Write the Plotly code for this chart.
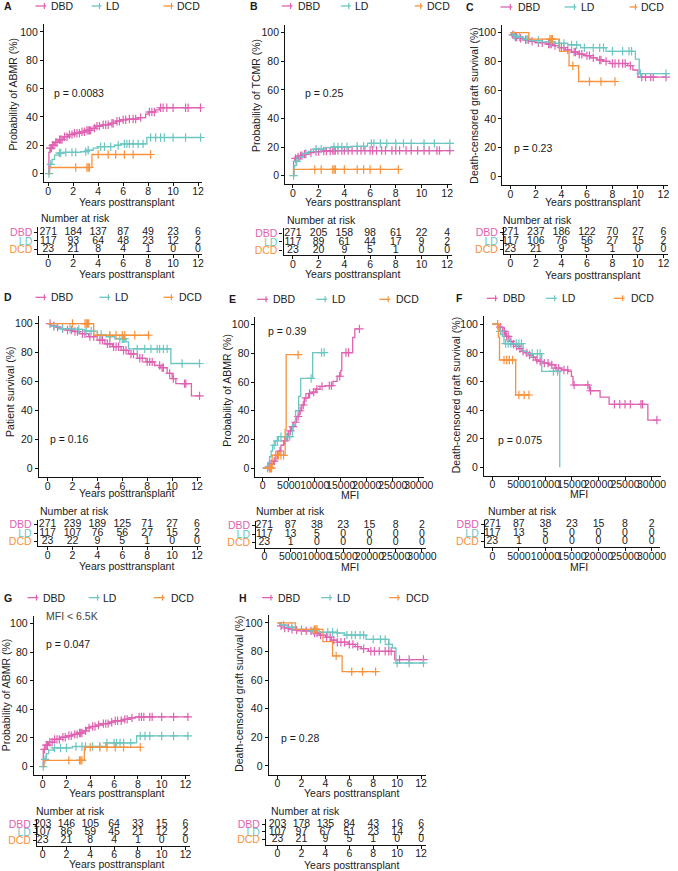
import numpy as np
import plotly.graph_objects as go

W, H = 678, 871
GROUPS = ['DBD', 'LD', 'DCD']
COL = {'DBD': '#DF62B2', 'LD': '#6CC6C2', 'DCD': '#F8923C'}

YEAR_TICKS = [0, 2, 4, 6, 8, 10, 12]
MFI_TICKS = [0, 5000, 10000, 15000, 20000, 25000, 30000]

# ---------------- Panel A : Probability of ABMR ----------------
A_DBD_t = [0, 0.05, 0.15, 0.3, 0.5, 0.8, 1.2, 1.6, 2.0, 2.6, 3.0, 3.5, 3.8, 4.3, 5.0, 5.4, 5.8, 6.3, 7.2, 7.8, 8.0, 8.6, 8.9, 12.3]
A_DBD_v = [0, 15, 18, 20, 22, 24, 26, 27.5, 28.5, 29.5, 30.5, 32, 33.5, 34.5, 35.5, 37, 38, 38.5, 39.5, 42, 43.5, 45, 46.5, 46.5]
A_DBD_c = [0.15, 0.25, 0.35, 0.45, 0.6, 0.7, 0.9, 1.0, 1.1, 1.3, 1.5, 1.7, 1.9, 2.1, 2.3, 2.5, 2.7, 2.9, 3.1, 3.2, 3.3, 3.4, 3.7, 3.9, 4.1, 4.4, 4.6, 4.8, 5.1, 5.2, 5.5, 5.7, 6.0, 6.2, 6.5, 6.8, 7.0, 7.4, 8.1, 8.3, 8.5, 9.0, 9.2, 9.5, 10.0, 11.0, 11.2, 12.2]
A_LD_t = [0, 0.1, 0.3, 0.5, 0.8, 1.2, 2.6, 3.1, 3.6, 4.0, 5.3, 5.8, 7.9, 12.3]
A_LD_v = [0, 6.5, 10, 13, 14.5, 15, 15.5, 16.5, 18, 19, 20, 21, 25.5, 25.5]
A_LD_c = [0.05, 0.2, 0.9, 1.0, 1.4, 1.9, 2.2, 3.0, 3.2, 4.2, 4.5, 5.0, 5.6, 6.1, 6.3, 6.5, 6.8, 7.2, 7.6, 8.2, 8.6, 9.0, 9.3, 10.0, 11.0, 12.2]
A_DCD_t = [0, 0.1, 3.5, 8.2]
A_DCD_v = [0, 4.3, 13.5, 13.5]
A_DCD_c = [2.2, 3.1, 3.2, 3.3, 4.0, 4.8, 5.4, 6.1, 6.8, 8.2]
A_RISK_DBD = [271, 184, 137, 87, 49, 23, 6]
A_RISK_LD = [117, 93, 64, 48, 23, 12, 2]
A_RISK_DCD = [23, 21, 8, 4, 1, 0, 0]

# ---------------- Panel B : Probability of TCMR ----------------
B_DBD_t = [0, 0.05, 0.15, 0.3, 0.5, 0.8, 1.2, 1.6, 2.2, 3.0, 12.3]
B_DBD_v = [0, 10, 12, 13, 14, 15, 16, 16.8, 17.2, 17.5, 17.5]
B_DBD_c = [0.2, 0.4, 0.6, 0.7, 0.9, 1.0, 1.4, 1.8, 2.0, 2.4, 2.6, 2.9, 3.1, 3.2, 3.3, 3.5, 3.8, 4.0, 4.3, 4.6, 5.0, 5.3, 5.6, 6.0, 6.2, 6.5, 6.9, 7.2, 7.7, 8.0, 8.3, 8.8, 9.2, 9.7, 10.2, 10.6, 11.2, 11.4, 12.2]
B_LD_t = [0, 0.1, 0.25, 0.5, 0.8, 1.2, 1.6, 2.5, 3.0, 4.5, 5.8, 12.3]
B_LD_v = [0, 7, 10, 13, 15.5, 17, 18.5, 19.5, 20, 20.5, 22.5, 22.5]
B_LD_c = [0.05, 0.3, 1.0, 1.8, 2.2, 3.2, 3.5, 3.8, 4.2, 5.0, 5.5, 6.1, 6.3, 6.8, 7.3, 8.0, 8.6, 9.2, 10.2, 11.0, 12.2]
B_DCD_t = [0, 0.05, 8.2]
B_DCD_v = [0, 4.3, 4.3]
B_DCD_c = [1.7, 2.2, 3.1, 3.2, 3.3, 4.0, 5.0, 5.5, 6.0, 6.8, 8.2]
B_RISK_DBD = [271, 205, 158, 98, 61, 22, 4]
B_RISK_LD = [117, 89, 61, 44, 17, 9, 2]
B_RISK_DCD = [23, 20, 9, 5, 1, 0, 0]

# ---------------- Panel C : Death-censored graft survival ----------------
C_DBD_t = [0, 0.1, 0.3, 0.6, 1.0, 1.5, 2.0, 2.8, 3.3, 3.8, 4.3, 4.8, 5.3, 5.8, 6.3, 6.8, 7.3, 7.8, 9.2, 9.6, 10.0, 12.3]
C_DBD_v = [100, 98.5, 97, 96, 95, 94, 93, 92, 91, 89.5, 88, 86.5, 85, 84, 82.5, 81, 80, 78.5, 77, 74, 69, 69]
C_DBD_c = [0.2, 0.4, 0.5, 0.8, 1.2, 1.4, 1.7, 2.2, 2.5, 3.0, 3.1, 3.2, 3.5, 4.0, 4.2, 4.5, 5.0, 5.1, 5.4, 5.6, 6.0, 6.2, 6.5, 7.0, 7.1, 7.5, 8.0, 8.2, 8.5, 8.8, 9.0, 9.4, 10.3, 10.6, 11.0, 11.2, 12.2]
C_LD_t = [0, 0.2, 0.5, 1.0, 1.5, 2.5, 3.5, 4.5, 5.5, 7.5, 9.8, 10.1, 12.3]
C_LD_v = [100, 98, 97, 95.5, 94.5, 93.5, 92.5, 91.5, 89.5, 87, 81.5, 71.5, 71.5]
C_LD_c = [0.3, 0.7, 1.3, 2.2, 3.2, 3.8, 4.2, 4.8, 5.2, 5.8, 6.5, 7.0, 7.3, 8.0, 8.8, 9.3, 9.5, 10.2, 12.2]
C_DCD_t = [0, 1.45, 3.85, 4.6, 5.35, 8.2]
C_DCD_v = [100, 95.5, 87, 77, 66, 66]
C_DCD_c = [3.1, 3.2, 3.3, 4.9, 6.2, 7.1, 8.2]
C_RISK_DBD = [271, 237, 186, 122, 70, 27, 6]
C_RISK_LD = [117, 106, 76, 56, 27, 15, 2]
C_RISK_DCD = [23, 21, 9, 5, 1, 0, 0]

# ---------------- Panel D : Patient survival ----------------
D_DBD_t = [0, 0.3, 0.7, 1.0, 1.5, 2.0, 2.6, 3.3, 4.0, 4.6, 5.2, 5.9, 6.5, 7.2, 7.9, 8.6, 9.1, 9.6, 10.0, 10.3, 11.55, 12.3]
D_DBD_v = [100, 98.5, 97.5, 96.5, 95.5, 94.5, 93, 91, 88.5, 86, 84, 81.5, 79, 76, 73.5, 71, 69.5, 65.5, 62, 58.5, 50, 50]
D_DBD_c = [0.2, 0.5, 0.8, 1.2, 1.6, 1.9, 2.2, 2.4, 2.8, 3.0, 3.4, 3.7, 4.2, 4.4, 4.8, 5.0, 5.3, 5.5, 5.7, 6.1, 6.3, 6.7, 6.9, 7.4, 7.6, 8.0, 8.2, 8.4, 9.0, 9.2, 9.3, 9.8, 10.1, 11.0, 11.1, 12.2]
D_LD_t = [0, 0.3, 0.9, 2.0, 3.0, 4.0, 4.7, 5.4, 6.3, 6.5, 9.9, 12.2]
D_LD_v = [100, 98, 96.5, 96, 94.7, 92.4, 91, 89.5, 87.3, 82.5, 72.4, 72.4]
D_LD_c = [0.5, 1.2, 1.8, 2.5, 3.1, 3.5, 4.3, 5.0, 5.8, 6.0, 6.1, 6.2, 7.2, 7.8, 8.3, 8.8, 9.0, 9.3, 9.6, 10.8, 12.2]
D_DCD_t = [0, 3.7, 8.1]
D_DCD_v = [100, 91.9, 91.9]
D_DCD_c = [2.0, 3.0, 3.1, 3.2, 3.3, 4.0, 5.0, 5.5, 6.0, 6.2, 7.0, 8.1]
D_RISK_DBD = [271, 239, 189, 125, 71, 27, 6]
D_RISK_LD = [117, 107, 76, 56, 27, 15, 2]
D_RISK_DCD = [23, 22, 9, 5, 1, 0, 0]

# ---------------- Panel E : Probability of ABMR vs MFI ----------------
E_DBD_t = [0, 1000, 1500, 2000, 2500, 3000, 3500, 4000, 4500, 5000, 5500, 6000, 6500, 7000, 7500, 8000, 8800, 9500, 10200, 11000, 12000, 13500, 14300, 15000, 15200, 17300, 17700, 18600]
E_DBD_v = [0, 1, 3, 5, 9, 12, 16, 19, 22, 26, 29, 32, 36, 40, 44, 49, 52, 53, 55, 57, 57.5, 60.5, 64, 68, 80.5, 91, 97, 97]
E_DBD_c = [1200, 1600, 2200, 2800, 3300, 4200, 4800, 5300, 5800, 6300, 6800, 7200, 7800, 8300, 9000, 9800, 10400, 11400, 12800, 13200, 14800, 16000, 16500, 18600]
E_LD_t = [0, 700, 1000, 1300, 1600, 1900, 2400, 3000, 5700, 6300, 6900, 7300, 9600, 11800]
E_LD_v = [0, 0, 4, 8, 12, 16, 19, 22, 30, 40, 50, 62.5, 80.5, 80.5]
E_LD_c = [900, 2200, 2800, 3500, 4500, 5200, 9300, 11300, 11800]
E_DCD_t = [0, 1800, 4300, 4500, 6800]
E_DCD_v = [0, 9, 27, 79, 79]
E_DCD_c = [1300, 1500, 1700, 2500, 3000, 3500, 4000, 6800]
E_RISK_DBD = [271, 87, 38, 23, 15, 8, 2]
E_RISK_LD = [117, 13, 5, 0, 0, 0, 0]
E_RISK_DCD = [23, 1, 0, 0, 0, 0, 0]

# ---------------- Panel F : Death-censored graft survival vs MFI ----------------
F_DBD_t = [0, 700, 1200, 1900, 2500, 3150, 3800, 4400, 5000, 5600, 6200, 6900, 7500, 8100, 8700, 9300, 10600, 11800, 13000, 14300, 14900, 15200, 18300, 20300, 22000, 29300, 31300]
F_DBD_v = [100, 100, 98, 95, 91.5, 88, 86, 84.5, 83, 81, 80, 78.5, 77, 75, 74, 72.8, 71.6, 69.3, 68, 67, 63.5, 57.5, 53.5, 49, 44, 33, 33]
F_DBD_c = [1500, 2000, 2300, 2700, 3000, 3500, 4000, 4600, 5200, 5800, 6500, 7000, 7700, 8400, 9000, 9800, 10500, 11200, 12000, 12500, 13500, 14200, 15400, 18000, 18500, 23000, 24000, 25000, 26000, 28000, 28300, 31000]
F_LD_t = [0, 400, 1000, 1300, 1600, 1900, 2200, 5800, 6600, 9300, 12700]
F_LD_v = [100, 100, 97, 95, 93, 91.5, 86.5, 81, 79.5, 67, 0]
F_LD_c = [1500, 2500, 3000, 3500, 4500, 5000, 5500, 7500, 8500, 9000, 11500, 12300]
F_DCD_t = [0, 1150, 1350, 4400, 6900]
F_DCD_v = [100, 91, 75, 50.5, 50.5]
F_DCD_c = [1000, 2200, 2700, 3200, 3800, 5000, 6000, 6900]
F_RISK_DBD = [271, 87, 38, 23, 15, 8, 2]
F_RISK_LD = [117, 13, 5, 0, 0, 0, 0]
F_RISK_DCD = [23, 1, 0, 0, 0, 0, 0]

# ---------------- Panel G : Probability of ABMR, MFI < 6.5K ----------------
G_DBD_t = [0, 0.05, 0.2, 0.5, 1.0, 1.5, 2.0, 2.5, 3.0, 3.4, 3.7, 4.0, 4.5, 5.0, 5.6, 6.0, 6.8, 7.3, 7.8, 12.3]
G_DBD_v = [0, 12, 15, 17, 19, 20.5, 21.5, 22.5, 23.5, 25, 27, 28, 29, 30, 31, 32, 33, 34, 34.7, 34.7]
G_DBD_c = [0.15, 0.3, 0.4, 0.6, 0.8, 1.0, 1.2, 1.4, 1.7, 1.9, 2.2, 2.4, 2.7, 2.9, 3.1, 3.2, 3.3, 3.6, 3.9, 4.2, 4.4, 4.7, 5.1, 5.3, 5.5, 5.8, 6.1, 6.3, 6.6, 6.9, 7.1, 7.5, 8.1, 8.3, 8.5, 9.0, 9.2, 10.0, 11.0, 12.2]
G_LD_t = [0, 0.1, 0.3, 0.5, 0.9, 2.5, 5.3, 7.9, 12.3]
G_LD_v = [0, 5, 9, 11.5, 13, 14, 16.5, 21.4, 21.4]
G_LD_c = [0.05, 0.2, 1.0, 1.5, 2.0, 2.8, 3.3, 3.6, 4.2, 4.8, 5.4, 6.0, 6.2, 6.5, 6.8, 7.4, 8.2, 8.6, 9.0, 10.0, 11.0, 12.2]
G_DCD_t = [0, 0.1, 3.5, 8.2]
G_DCD_v = [0, 4.3, 13.5, 13.5]
G_DCD_c = [2.2, 3.1, 3.2, 3.3, 4.0, 4.8, 5.4, 6.1, 6.8, 8.2]
G_RISK_DBD = [203, 146, 105, 64, 33, 15, 6]
G_RISK_LD = [107, 86, 59, 45, 21, 12, 2]
G_RISK_DCD = [23, 21, 8, 4, 1, 0, 0]

# ---------------- Panel H : Death-censored graft survival, MFI < 6.5K ----------------
H_DBD_t = [0, 0.2, 0.5, 1.0, 1.5, 2.0, 3.0, 3.5, 4.0, 4.5, 5.0, 5.9, 6.5, 7.0, 7.6, 9.8, 12.3]
H_DBD_v = [100, 98, 96.5, 95.5, 95, 94.5, 93, 91.5, 90, 88, 86.5, 85, 83.5, 82, 80.2, 74.4, 74.4]
H_DBD_c = [0.3, 0.6, 0.9, 1.2, 1.6, 2.0, 2.4, 2.8, 3.1, 3.3, 3.6, 4.1, 4.4, 4.7, 5.0, 5.3, 5.6, 6.0, 6.3, 6.7, 7.2, 7.8, 8.1, 8.5, 9.0, 9.3, 9.5, 10.2, 11.0, 12.2]
H_LD_t = [0, 0.3, 0.8, 1.5, 2.5, 3.5, 5.0, 5.6, 7.4, 9.3, 9.6, 9.9, 12.3]
H_LD_v = [100, 98.5, 97, 95.5, 94.5, 93.5, 93, 91.5, 88.5, 85, 82.5, 72, 72]
H_LD_c = [0.5, 1.2, 2.0, 3.0, 4.2, 4.6, 5.0, 5.8, 6.2, 6.5, 6.9, 7.2, 8.0, 8.6, 9.0, 9.3, 10.0, 11.0, 12.2]
H_DCD_t = [0, 1.5, 3.8, 4.6, 5.4, 8.2]
H_DCD_v = [100, 95.5, 87, 77, 66, 66]
H_DCD_c = [3.1, 3.2, 3.3, 4.9, 6.2, 7.1, 8.2]
H_RISK_DBD = [203, 178, 135, 84, 43, 16, 6]
H_RISK_LD = [107, 97, 67, 51, 23, 14, 2]
H_RISK_DCD = [23, 21, 9, 5, 1, 0, 0]


# ---------------- layout (pixel positions of each panel) ----------------
def px_x(p):
    return p / W


def px_y(p):
    return 1 - p / H


FONT = 'Liberation Sans, Arial, sans-serif'
TXT = '#1a1a1a'

panels = [
    dict(letter='A', ytitle='Probability of ABMR (%)', xtitle='Years posttransplant',
         curves={'DBD': (A_DBD_t, A_DBD_v, A_DBD_c), 'LD': (A_LD_t, A_LD_v, A_LD_c), 'DCD': (A_DCD_t, A_DCD_v, A_DCD_c)},
         risk={'DBD': A_RISK_DBD, 'LD': A_RISK_LD, 'DCD': A_RISK_DCD}, ticks=YEAR_TICKS, p='p = 0.0083',
         m=dict(x0=49, xk=12.667, xr=[-0.35, 12.35], y0=173, yk=1.42),
         r=dict(x0=49, xk=12.667, xr=[-0.79, 12.35], rows=[232, 240.5, 249], axis=254),
         leg=dict(y=5, L=2, items=[(36, 47, 50), (93, 103, 106), (166, 176, 178)]),
         pp=(53, 92), yt=(13, 93), xt_m=(128, 201), xt_r=(128, 274), nar=(40, 218)),
    dict(letter='B', ytitle='Probability of TCMR (%)', xtitle='Years posttransplant',
         curves={'DBD': (B_DBD_t, B_DBD_v, B_DBD_c), 'LD': (B_LD_t, B_LD_v, B_LD_c), 'DCD': (B_DCD_t, B_DCD_v, B_DCD_c)},
         risk={'DBD': B_RISK_DBD, 'LD': B_RISK_LD, 'DCD': B_RISK_DCD}, ticks=YEAR_TICKS, p='p = 0.25',
         m=dict(x0=297.3, xk=13.05, xr=[-0.6, 12.35], y0=175, yk=1.433),
         r=dict(x0=297.3, xk=13.05, xr=[-0.73, 12.35], rows=[233, 241.5, 250], axis=255),
         leg=dict(y=5, L=252, items=[(286, 297, 300), (346, 356, 358), (421, 429, 431)]),
         pp=(308, 92), yt=(260, 95), xt_m=(358, 201), xt_r=(358, 274), nar=(289, 220)),
    dict(letter='C', ytitle='Death-censored graft survival (%)', xtitle='Years posttransplant',
         curves={'DBD': (C_DBD_t, C_DBD_v, C_DBD_c), 'LD': (C_LD_t, C_LD_v, C_LD_c), 'DCD': (C_DCD_t, C_DCD_v, C_DCD_c)},
         risk={'DBD': C_RISK_DBD, 'LD': C_RISK_LD, 'DCD': C_RISK_DCD}, ticks=YEAR_TICKS, p='p = 0.23',
         m=dict(x0=518, xk=12.95, xr=[-0.64, 12.35], y0=175.7, yk=1.44),
         r=dict(x0=518, xk=12.95, xr=[-0.5, 12.35], rows=[232, 240.5, 249], axis=254),
         leg=dict(y=6, L=471, items=[(508, 520, 524), (573, 585, 588), (639, 647, 649)]),
         pp=(520, 147), yt=(481, 105), xt_m=(601, 201), xt_r=(601, 275), nar=(509, 220)),
    dict(letter='D', ytitle='Patient survival (%)', xtitle='Years posttransplant',
         curves={'DBD': (D_DBD_t, D_DBD_v, D_DBD_c), 'LD': (D_LD_t, D_LD_v, D_LD_c), 'DCD': (D_DCD_t, D_DCD_v, D_DCD_c)},
         risk={'DBD': D_RISK_DBD, 'LD': D_RISK_LD, 'DCD': D_RISK_DCD}, ticks=YEAR_TICKS, p='p = 0.16',
         m=dict(x0=48.3, xk=12.64, xr=[-0.71, 12.35], y0=468.3, yk=1.45),
         r=dict(x0=48.3, xk=12.64, xr=[-0.79, 12.35], rows=[525, 533.3, 541.7], axis=546.7),
         leg=dict(y=297, L=2, items=[(36, 47, 50), (101, 112, 115), (166, 176, 180)]),
         pp=(49, 439), yt=(10, 392), xt_m=(128, 493), xt_r=(128, 566), nar=(39, 511)),
    dict(letter='E', ytitle='Probability of ABMR (%)', xtitle='MFI',
         curves={'DBD': (E_DBD_t, E_DBD_v, E_DBD_c), 'LD': (E_LD_t, E_LD_v, E_LD_c), 'DCD': (E_DCD_t, E_DCD_v, E_DCD_c)},
         risk={'DBD': E_RISK_DBD, 'LD': E_RISK_LD, 'DCD': E_RISK_DCD}, ticks=MFI_TICKS, p='p = 0.39',
         m=dict(x0=266.7, xk=0.005277, xr=[-1400, 31000], y0=468.3, yk=1.44),
         r=dict(x0=268.3, xk=0.005333, xr=[-1550, 30800], rows=[526, 534.5, 543], axis=548),
         leg=dict(y=299, L=230, items=[(261, 272, 275), (321, 332, 335), (385, 396, 400)]),
         pp=(270, 331), yt=(230, 390), xt_m=(355, 495), xt_r=(355, 567), nar=(258, 511)),
    dict(letter='F', ytitle='Death-censored graft survival (%)', xtitle='MFI',
         curves={'DBD': (F_DBD_t, F_DBD_v, F_DBD_c), 'LD': (F_LD_t, F_LD_v, F_LD_c), 'DCD': (F_DCD_t, F_DCD_v, F_DCD_c)},
         risk={'DBD': F_RISK_DBD, 'LD': F_RISK_LD, 'DCD': F_RISK_DCD}, ticks=MFI_TICKS, p='p = 0.075',
         m=dict(x0=499.7, xk=0.005388, xr=[-1560, 31700], y0=467.3, yk=1.433),
         r=dict(x0=499.7, xk=0.005388, xr=[-1400, 31500], rows=[525, 533.5, 542], axis=547.5),
         leg=dict(y=298, L=461, items=[(494, 505, 508), (554, 565, 568), (623, 634, 638)]),
         pp=(503, 440), yt=(463, 395), xt_m=(588, 494), xt_r=(588, 567), nar=(493, 511)),
    dict(letter='G', ytitle='Probability of ABMR (%)', xtitle='Years posttransplant',
         curves={'DBD': (G_DBD_t, G_DBD_v, G_DBD_c), 'LD': (G_LD_t, G_LD_v, G_LD_c), 'DCD': (G_DCD_t, G_DCD_v, G_DCD_c)},
         risk={'DBD': G_RISK_DBD, 'LD': G_RISK_LD, 'DCD': G_RISK_DCD}, ticks=YEAR_TICKS, p='p = 0.047',
         m=dict(x0=43.3, xk=12.08, xr=[-0.75, 12.4], y0=767.3, yk=1.433),
         r=dict(x0=43.3, xk=12.08, xr=[-0.47, 12.4], rows=[825, 833.3, 841.7], axis=846.7),
         leg=dict(y=598, L=2, items=[(28, 39, 42), (90, 101, 103), (156, 167, 172)]),
         pp=(45, 644), yt=(6, 695), xt_m=(118, 794), xt_r=(118, 865), nar=(35, 812),
         sub='MFI < 6.5K'),
    dict(letter='H', ytitle='Death-censored graft survival (%)', xtitle='Years posttransplant',
         curves={'DBD': (H_DBD_t, H_DBD_v, H_DBD_c), 'LD': (H_LD_t, H_LD_v, H_LD_c), 'DCD': (H_DCD_t, H_DCD_v, H_DCD_c)},
         risk={'DBD': H_RISK_DBD, 'LD': H_RISK_LD, 'DCD': H_RISK_DCD}, ticks=YEAR_TICKS, p='p = 0.28',
         m=dict(x0=281.7, xk=12.14, xr=[-0.74, 12.4], y0=766.7, yk=1.433),
         r=dict(x0=281.7, xk=12.14, xr=[-0.96, 12.4], rows=[825, 832.7, 840.7], axis=845.7),
         leg=dict(y=598, L=241, items=[(266, 277, 280), (326, 337, 340), (395, 406, 410)]),
         pp=(283, 739), yt=(243, 694), xt_m=(357, 794), xt_r=(357, 866), nar=(273, 812)),
]

YR = [-6, 105.5]


def step_at(ts, vs, t):
    i = int(np.searchsorted(np.asarray(ts), t, side='right')) - 1
    return vs[max(i, 0)]


def clamp(v):
    return min(max(v, 0.0), 1.0)


axis_common = dict(showline=True, linecolor='#111111', linewidth=1.1, ticks='outside', ticklen=3,
                   tickwidth=1, tickcolor='#111111', showgrid=False, zeroline=False,
                   tickfont=dict(size=10.5, color=TXT, family=FONT), fixedrange=True, tickangle=0)

fig = go.Figure()
layout = {}
annotations = []
shapes = []


def ann(x, y, text, size=10.5, xanchor='left', angle=0, color=TXT, bold=False):
    annotations.append(dict(x=px_x(x), y=px_y(y), xref='paper', yref='paper', text=('<b>%s</b>' % text) if bold else text,
                            showarrow=False, xanchor=xanchor, yanchor='middle', textangle=angle,
                            font=dict(size=size, color=color, family=FONT)))


for k, P in enumerate(panels):
    mi, ri = 2 * k + 1, 2 * k + 2
    mx = 'x' if mi == 1 else 'x%d' % mi
    my = 'y' if mi == 1 else 'y%d' % mi
    rx, ry = 'x%d' % ri, 'y%d' % ri
    m, r = P['m'], P['r']

    # main axes
    xdom = [clamp(px_x(m['x0'] + m['xk'] * m['xr'][0])), clamp(px_x(m['x0'] + m['xk'] * m['xr'][1]))]
    ydom = [px_y(m['y0'] - m['yk'] * YR[0]), px_y(m['y0'] - m['yk'] * YR[1])]
    tickt = [str(t) for t in P['ticks']]
    layout['xaxis' if mi == 1 else 'xaxis%d' % mi] = dict(axis_common, domain=xdom, range=m['xr'], anchor=my,
                                                          tickvals=P['ticks'], ticktext=tickt,
                                                          ticklabelstandoff=-4)
    layout['yaxis' if mi == 1 else 'yaxis%d' % mi] = dict(axis_common, domain=ydom, range=YR, anchor=mx,
                                                          tickvals=[0, 20, 40, 60, 80, 100])

    # risk table axes
    ky = (r['rows'][2] - r['rows'][0]) / 2.0
    rr0 = 1 - (r['axis'] - r['rows'][2]) / ky
    rr1 = 3 + 5.0 / ky
    rxdom = [clamp(px_x(r['x0'] + r['xk'] * r['xr'][0])), clamp(px_x(r['x0'] + r['xk'] * r['xr'][1]))]
    rydom = [px_y(r['axis']), px_y(r['rows'][0] - 5)]
    layout['xaxis%d' % ri] = dict(axis_common, domain=rxdom, range=r['xr'], anchor=ry,
                                  tickvals=P['ticks'], ticktext=tickt, ticklabelstandoff=-4)
    layout['yaxis%d' % ri] = dict(axis_common, domain=rydom, range=[rr0, rr1], anchor=rx,
                                  tickvals=[3, 2, 1],
                                  ticktext=['<span style="color:%s">%s</span>' % (COL[g], g) for g in GROUPS],
                                  tickfont=dict(size=10.5, family=FONT))

    # curves
    for g in GROUPS:
        ts, vs, cs = P['curves'][g]
        fig.add_trace(go.Scatter(x=ts, y=vs, mode='lines', line=dict(color=COL[g], width=1.3, shape='hv'),
                                 xaxis=mx, yaxis=my, hoverinfo='skip', cliponaxis=False))
        cy = [step_at(ts, vs, c) for c in cs]
        fig.add_trace(go.Scatter(x=cs, y=cy, mode='markers',
                                 marker=dict(symbol='cross-thin', size=6, color=COL[g],
                                             line=dict(color=COL[g], width=1.2)),
                                 xaxis=mx, yaxis=my, hoverinfo='skip', cliponaxis=False))
    # risk numbers
    for j, g in enumerate(GROUPS):
        fig.add_trace(go.Scatter(x=P['ticks'], y=[3 - j] * len(P['ticks']), mode='text',
                                 text=[str(n) for n in P['risk'][g]],
                                 textfont=dict(size=10.5, color=TXT, family=FONT), textposition='middle center',
                                 xaxis=rx, yaxis=ry, hoverinfo='skip', cliponaxis=False))

    # texts
    ann(P['leg']['L'], P['leg']['y'], P['letter'], size=10.5, bold=True)
    for g, (a, b, tx) in zip(GROUPS, P['leg']['items']):
        yy = px_y(P['leg']['y'])
        shapes.append(dict(type='line', xref='paper', yref='paper', x0=px_x(a), x1=px_x(b), y0=yy, y1=yy,
                           line=dict(color=COL[g], width=1.3)))
        shapes.append(dict(type='line', xref='paper', yref='paper', x0=px_x(b - 2), x1=px_x(b - 2),
                           y0=px_y(P['leg']['y'] - 3), y1=px_y(P['leg']['y'] + 3),
                           line=dict(color=COL[g], width=1.2)))
        ann(tx, P['leg']['y'], g, size=10.5)
    ann(P['pp'][0], P['pp'][1], P['p'], size=10.5)
    ann(P['yt'][0], P['yt'][1], P['ytitle'], size=10.5, xanchor='center', angle=-90)
    ann(P['xt_m'][0], P['xt_m'][1], P['xtitle'], size=10.5, xanchor='center')
    ann(P['xt_r'][0], P['xt_r'][1], P['xtitle'], size=10.5, xanchor='center')
    ann(P['nar'][0], P['nar'][1], 'Number at risk', size=10.5)
    if 'sub' in P:
        ann(45, 616, P['sub'], size=10.5, color='#444444')

fig.update_layout(width=W, height=H, margin=dict(l=0, r=0, t=0, b=0), autosize=False,
                  paper_bgcolor='white', plot_bgcolor='white', showlegend=False,
                  font=dict(family=FONT, size=10.5, color=TXT),
                  annotations=annotations, shapes=shapes, **layout)
fig.write_html('out.html', config={'displayModeBar': False},
               post_script="document.body.style.margin='0';document.body.style.padding='0';"
                           "document.body.style.overflow='hidden';")
